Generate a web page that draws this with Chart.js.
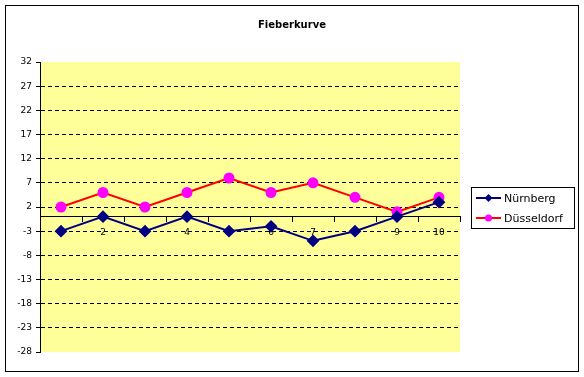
<!DOCTYPE html>
<html>
<head>
<meta charset="utf-8">
<script src="https://cdn.jsdelivr.net/npm/chart.js@4/dist/chart.umd.min.js"></script>
<style>
  html, body { margin: 0; padding: 0; background: #fff; }
</style>
</head>
<body>
<canvas id="chart" width="584" height="377"></canvas>
<script>
let chartTitle = "Fieberkurve";
let days = ["1", "2", "3", "4", "5", "6", "7", "8", "9", "10"];
let seriesNames = ["Nürnberg", "Düsseldorf"];
let nuernberg = [-3, 0, -3, 0, -3, -2, -5, -3, 0, 3];
let duesseldorf = [2, 5, 2, 5, 8, 5, 7, 4, 1, 4];
let yTicks = [32, 27, 22, 17, 12, 7, 2, -3, -8, -13, -18, -23, -28];

let fontFamily = "'DejaVu Sans', Verdana, sans-serif";

// white page, outer frame and the yellow plot area (drawn before the scales)
let framePlugin = {
    id: "frame",
    beforeDraw: function (chart) {
        let ctx = chart.ctx;
        let area = chart.chartArea;
        ctx.save();
        ctx.fillStyle = "#ffffff";
        ctx.fillRect(0, 0, chart.width, chart.height);
        ctx.fillStyle = "#ffff99";
        ctx.fillRect(area.left, area.top, area.right - area.left, area.bottom - area.top);
        ctx.strokeStyle = "#000000";
        ctx.lineWidth = 1;
        ctx.strokeRect(5.5, 5.5, 573, 366);
        ctx.restore();
    }
};

// title and the boxed legend, Excel style (line with marker)
let titleLegendPlugin = {
    id: "titleLegend",
    afterDraw: function (chart) {
        let ctx = chart.ctx;
        ctx.save();
        ctx.fillStyle = "#000000";
        ctx.font = "bold 10px " + fontFamily;
        ctx.textAlign = "center";
        ctx.textBaseline = "middle";
        ctx.fillText(chartTitle, 292, 25);

        ctx.strokeStyle = "#000000";
        ctx.lineWidth = 1;
        ctx.strokeRect(471.5, 187.5, 103, 41);

        ctx.font = "11px " + fontFamily;
        ctx.textAlign = "left";
        chart.data.datasets.forEach(function (ds, i) {
            let y = 198 + i * 20;
            ctx.strokeStyle = ds.borderColor;
            ctx.lineWidth = 2;
            ctx.beginPath();
            ctx.moveTo(476, y);
            ctx.lineTo(501, y);
            ctx.stroke();
            ctx.fillStyle = ds.pointBackgroundColor;
            ctx.beginPath();
            if (ds.pointStyle === "rectRot") {
                ctx.moveTo(488.5, y - 4);
                ctx.lineTo(492.5, y);
                ctx.lineTo(488.5, y + 4);
                ctx.lineTo(484.5, y);
                ctx.closePath();
            } else {
                ctx.arc(488.5, y, 3.5, 0, Math.PI * 2);
            }
            ctx.fill();
            ctx.fillStyle = "#000000";
            ctx.fillText(ds.label, 504, y + 1);
        });
        ctx.restore();
    }
};

new Chart(document.getElementById("chart"), {
    type: "line",
    data: {
        labels: days,
        datasets: [
            {
                label: seriesNames[0],
                data: nuernberg,
                borderColor: "#000080",
                backgroundColor: "#000080",
                pointBackgroundColor: "#000080",
                pointBorderColor: "#000080",
                pointStyle: "rectRot",
                pointRadius: 5,
                borderWidth: 2,
                tension: 0,
                fill: false
            },
            {
                label: seriesNames[1],
                data: duesseldorf,
                borderColor: "#ff0000",
                backgroundColor: "#ff00ff",
                pointBackgroundColor: "#ff00ff",
                pointBorderColor: "#ff00ff",
                pointStyle: "circle",
                pointRadius: 4.5,
                borderWidth: 2,
                tension: 0,
                fill: false
            }
        ]
    },
    options: {
        responsive: false,
        animation: false,
        layout: {padding: {left: 5, top: 62, right: 124, bottom: 25}},
        plugins: {
            legend: {display: false},
            title: {display: false},
            tooltip: {enabled: false}
        },
        scales: {
            x: {
                type: "category",
                position: {y: 0},
                offset: true,
                grid: {
                    drawOnChartArea: false,
                    drawTicks: true,
                    tickLength: 5,
                    color: "#000000",
                    offset: true
                },
                border: {display: true, color: "#000000", width: 1},
                ticks: {
                    color: "#000000",
                    font: {family: fontFamily, size: 9},
                    padding: 6,
                    maxRotation: 0,
                    autoSkip: false
                }
            },
            y: {
                type: "linear",
                position: "left",
                min: -28,
                max: 32,
                afterBuildTicks: function (scale) {
                    scale.ticks = yTicks.slice().reverse().map(function (v) {
                        return {value: v};
                    });
                },
                afterFit: function (scale) {
                    scale.width = 35;
                },
                grid: {
                    color: function (c) {
                        let v = c.tick ? c.tick.value : null;
                        return (v === 32 || v === -28) ? "rgba(0,0,0,0)" : "#000000";
                    },
                    tickColor: "#000000",
                    tickLength: 4,
                    lineWidth: 1
                },
                border: {display: true, color: "#000000", width: 1, dash: [4, 3]},
                ticks: {
                    color: "#000000",
                    font: {family: fontFamily, size: 9},
                    padding: 4
                }
            }
        }
    },
    plugins: [framePlugin, titleLegendPlugin]
});
</script>
</body>
</html>
